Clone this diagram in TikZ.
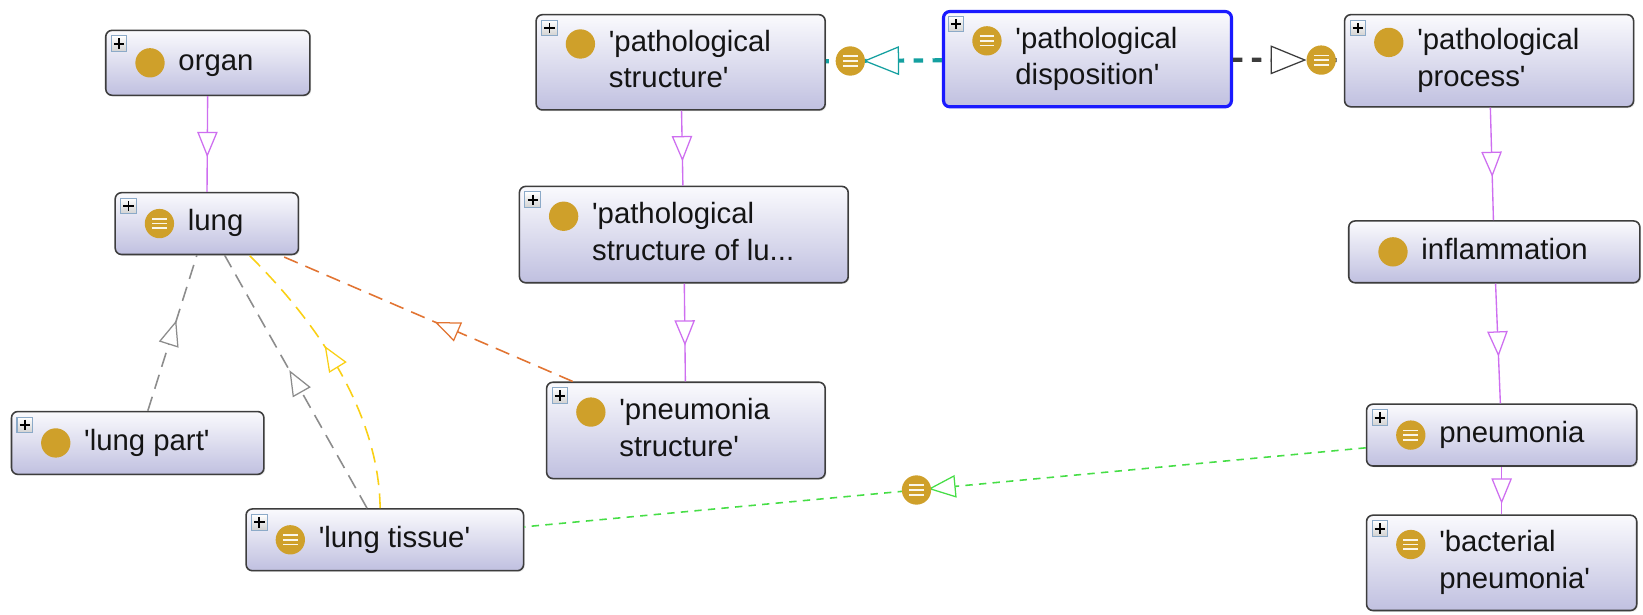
\documentclass[tikz,border=0pt]{standalone}
\usepackage{fontspec}
\setmainfont{Liberation Sans}
\usetikzlibrary{calc,decorations.markings,shadows}
\definecolor{gold}{RGB}{207,160,42}
\definecolor{vio}{RGB}{206,110,240}
\definecolor{gry}{RGB}{140,140,140}
\definecolor{yel}{RGB}{250,208,20}
\definecolor{ora}{RGB}{226,116,50}
\definecolor{grn}{RGB}{70,222,70}
\definecolor{cyn}{RGB}{20,160,160}
\definecolor{drk}{RGB}{60,60,60}
\definecolor{boxtop}{RGB}{250,250,253}
\definecolor{boxbot}{RGB}{192,192,224}
\definecolor{pbdraw}{RGB}{140,170,200}
\definecolor{selblue}{RGB}{26,26,255}
\newcommand\q{\textquotesingle}
\newcommand\plusicon[1]{%
  \draw[pbdraw, line width=1pt, top color=white, bottom color=black!18] ([xshift=6pt,yshift=-6pt]#1.north west) rectangle ++(15,15);
  \draw[black, line width=1.8pt] ([xshift=8.5pt,yshift=-13.5pt]#1.north west) -- ++(10,0)
        ([xshift=13.5pt,yshift=-8.5pt]#1.north west) -- ++(0,10);}
\newcommand\dotat[1]{\fill[gold] (#1) circle[radius=14pt];}
\newcommand\eqat[1]{\begin{scope}[shift={(#1)}]
  \fill[gold] (0,0) circle[radius=14pt];
  \draw[white!90!gold, line width=1.6pt] (-7,-4.5) -- (7,-4.5) (-7,0) -- (7,0) (-7,4.5) -- (7,4.5);
  \end{scope}}
\tikzset{
  cbox/.style={rounded corners=6pt, draw=black!76, line width=1.5pt, top color=boxtop, bottom color=boxbot, inner sep=0pt,
     drop shadow={shadow xshift=1.2pt, shadow yshift=-1.2pt, opacity=0.18}},
  lbl/.style={inner sep=0pt, anchor=west, align=left, font=\fontsize{28}{35}\selectfont, text=black!92},
  tri/.style 2 args={postaction={decorate, decoration={markings, mark=at position #1 with {\draw[#2, solid, fill=white, line width=1.2pt] (11,0) -- (-11,9) -- (-11,-9) -- cycle;}}}},
  tipat/.style n args={4}{postaction={decorate, decoration={markings, mark=at position #1 with {\draw[#2, solid, fill=white, line width=1.2pt] (0,0) -- (-#3,#4) -- (-#3,-#4) -- cycle;}}}},
  sub/.style={vio, line width=1.3pt, tri={0.5}{vio}},
  dsh/.style={line width=1.5pt, dash pattern=on 14pt off 8pt},
}
\begin{document}
\begin{tikzpicture}[x=1pt,y=-1pt]
\fill[white] (0,0) rectangle (1569,586.4);
\useasboundingbox (0,0) rectangle (1569,586.4);

% ---------- boxes ----------
\node[cbox, minimum width=195, minimum height=62] (organ) at (198.5,60) {};
\node[cbox, minimum width=175, minimum height=59] (lung) at (197.5,213.5) {};
\node[cbox, minimum width=241, minimum height=60] (lp) at (131.5,423) {};
\node[cbox, minimum width=265, minimum height=59] (lt) at (367.5,515.5) {};
\node[cbox, minimum width=276, minimum height=91] (ps) at (650,59.5) {};
\node[cbox, minimum width=314, minimum height=92] (psl) at (653,224) {};
\node[cbox, minimum width=266, minimum height=92] (pns) at (655,411) {};
\node[cbox, draw=selblue, line width=3pt, minimum width=275, minimum height=91] (pd) at (1038.5,56.5) {};
\node[cbox, minimum width=276, minimum height=88] (pp) at (1422,58) {};
\node[cbox, minimum width=278, minimum height=59] (inf) at (1427,240.5) {};
\node[cbox, minimum width=258, minimum height=59] (pn) at (1434,415.5) {};
\node[cbox, minimum width=258, minimum height=91] (bp) at (1434,537.5) {};

% ---------- icons and labels ----------
\plusicon{organ}\dotat{$(organ.west)+(43,0)$}
\node[lbl] (organ-t) at ($(organ.west)+(70,0)$) {\strut organ};
\plusicon{lung}\eqat{$(lung.west)+(43,0)$}
\node[lbl] (lung-t) at ($(lung.west)+(70,0)$) {\strut lung};
\plusicon{lp}\dotat{$(lp.west)+(43,0)$}
\node[lbl] (lp-t) at ($(lp.west)+(70,0)$) {\strut\q lung part\q};
\plusicon{lt}\eqat{$(lt.west)+(43,0)$}
\node[lbl] (lt-t) at ($(lt.west)+(70,0)$) {\strut\q lung tissue\q};
\plusicon{ps}\dotat{$(ps.west)+(43,-17.5)$}
\node[lbl] (ps-t) at ($(ps.west)+(70,0)$) {\strut\q pathological\\\strut structure\q};
\plusicon{psl}\dotat{$(psl.west)+(43,-17.5)$}
\node[lbl] (psl-t) at ($(psl.west)+(70,0)$) {\strut\q pathological\\\strut structure of lu...};
\plusicon{pns}\dotat{$(pns.west)+(43,-17.5)$}
\node[lbl] (pns-t) at ($(pns.west)+(70,0)$) {\strut\q pneumonia\\\strut structure\q};
\plusicon{pd}\eqat{$(pd.west)+(43,-17.5)$}
\node[lbl] (pd-t) at ($(pd.west)+(70,0)$) {\strut\q pathological\\\strut disposition\q};
\plusicon{pp}\dotat{$(pp.west)+(43,-17.5)$}
\node[lbl] (pp-t) at ($(pp.west)+(70,0)$) {\strut\q pathological\\\strut process\q};
\dotat{$(inf.west)+(43,0)$}
\node[lbl] (inf-t) at ($(inf.west)+(70,0)$) {\strut inflammation};
\plusicon{pn}\eqat{$(pn.west)+(43,0)$}
\node[lbl] (pn-t) at ($(pn.west)+(70,0)$) {\strut pneumonia};
\plusicon{bp}\eqat{$(bp.west)+(43,-17.5)$}
\node[lbl] (bp-t) at ($(bp.west)+(70,0)$) {\strut\q bacterial\\\strut pneumonia\q};

% ---------- subclass edges ----------
\draw[sub] (organ) -- (lung);
\draw[sub] (ps) -- (psl);
\draw[sub] (psl) -- (pns);
\draw[sub] (pp) -- (inf);
\draw[sub] (inf) -- (pn);
\draw[sub] (pn) -- (bp);

% ---------- property edges ----------
\draw[gry, dsh, tri={0.5}{gry}] (lp) -- (lung);
\draw[gry, dsh, tri={0.5}{gry}] (lt) -- (lung);
\draw[yel, dsh, tri={0.55}{yel}] ($(lt.north)+(-4.5,0)$) .. controls (362,400) and (310,315) .. ($(lung.south)+(40.5,0)$);
\draw[ora, dsh, tri={0.43}{ora}] (pns) -- (lung);

\draw[cyn, line width=4pt, dash pattern=on 9pt off 9pt, tipat={0.664}{cyn}{32}{13}] (pd) -- coordinate[pos=0.79] (cyc) (ps);
\eqat{cyc}
\draw[drk, line width=4pt, dash pattern=on 9pt off 9pt, tipat={0.648}{drk}{32}{13}] (pd) -- coordinate[pos=0.796] (dkc) (pp);
\eqat{dkc}
\draw[grn, line width=1.5pt, dash pattern=on 7pt off 6pt, tipat={0.518}{grn}{24}{10}] (pn) -- coordinate[pos=0.534] (gc) (lt);
\eqat{gc}
\end{tikzpicture}
\end{document}
